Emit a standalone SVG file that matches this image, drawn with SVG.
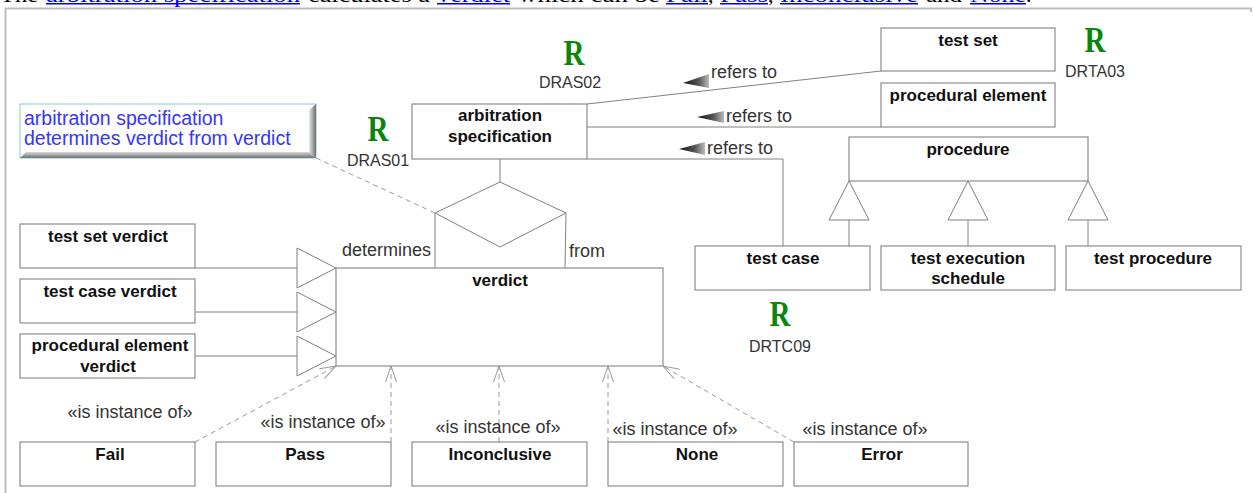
<svg xmlns="http://www.w3.org/2000/svg" width="1253" height="493" viewBox="0 0 1253 493">
<style>
.box{fill:#fff;stroke:#8c8c8c;stroke-width:1.2}
.ln{stroke:#808080;stroke-width:1;fill:none}
.dash{stroke:#9a9a9a;stroke-width:1;stroke-dasharray:5 4;fill:none}
.tri{fill:#fff;stroke:#808080;stroke-width:1}
.b{font-family:"Liberation Sans",Arial,sans-serif;font-weight:bold;font-size:17px;fill:#111;text-anchor:middle}
.t{font-family:"Liberation Sans",Arial,sans-serif;font-size:18px;fill:#333}
.r{font-family:"Liberation Serif","Times New Roman",serif;font-weight:bold;font-size:36px;fill:#0a870a;text-anchor:middle}
.id{font-family:"Liberation Sans",Arial,sans-serif;font-size:16px;fill:#333;text-anchor:middle}
.hd{font-family:"Liberation Serif","Times New Roman",serif;font-size:22px;fill:#000}
.lk{fill:#0000ee}
</style>
<defs>
<marker id="open" markerUnits="userSpaceOnUse" viewBox="-17 -7 18 14" refX="0" refY="0" markerWidth="18" markerHeight="14" orient="auto">
<path d="M-16,-5.5 L0,0 L-16,5.5" fill="none" stroke="#999" stroke-width="1"/>
</marker>
<linearGradient id="gr" x1="0" y1="0" x2="1" y2="0">
<stop offset="0" stop-color="#111"/><stop offset="0.6" stop-color="#555"/><stop offset="1" stop-color="#bbb"/>
</linearGradient>
<linearGradient id="bvR" x1="0" y1="0" x2="1" y2="0">
<stop offset="0" stop-color="#e8e8e8"/><stop offset="1" stop-color="#6e6e6e"/>
</linearGradient>
<linearGradient id="bvB" x1="0" y1="0" x2="0" y2="1">
<stop offset="0" stop-color="#d8d8d8"/><stop offset="1" stop-color="#707070"/>
</linearGradient>
</defs>

<g id="header">
<text class="hd" x="0" y="1.5" textLength="38" lengthAdjust="spacingAndGlyphs">The</text>
<text class="hd lk" x="46" y="1.5" textLength="254" lengthAdjust="spacingAndGlyphs">arbitration specification</text>
<text class="hd" x="308" y="1.5" textLength="122" lengthAdjust="spacingAndGlyphs">calculates a</text>
<text class="hd lk" x="437" y="1.5" textLength="73" lengthAdjust="spacingAndGlyphs">verdict</text>
<text class="hd" x="518" y="1.5" textLength="142" lengthAdjust="spacingAndGlyphs">which can be</text>
<text class="hd lk" x="666" y="1.5" textLength="42" lengthAdjust="spacingAndGlyphs">Fail</text>
<text class="hd" x="708" y="1.5">,</text>
<text class="hd lk" x="720" y="1.5" textLength="48" lengthAdjust="spacingAndGlyphs">Pass</text>
<text class="hd" x="768" y="1.5">,</text>
<text class="hd lk" x="780" y="1.5" textLength="138" lengthAdjust="spacingAndGlyphs">Inconclusive</text>
<text class="hd" x="926" y="1.5" textLength="36" lengthAdjust="spacingAndGlyphs">and</text>
<text class="hd lk" x="970" y="1.5" textLength="56" lengthAdjust="spacingAndGlyphs">None</text>
<text class="hd" x="1026" y="1.5">.</text>
<rect x="46" y="3" width="254" height="1.5" fill="#0000ee"/>
<rect x="437" y="3" width="73" height="1.5" fill="#0000ee"/>
<rect x="666" y="3" width="42" height="1.5" fill="#0000ee"/>
<rect x="720" y="3" width="48" height="1.5" fill="#0000ee"/>
<rect x="780" y="3" width="138" height="1.5" fill="#0000ee"/>
<rect x="970" y="3" width="56" height="1.5" fill="#0000ee"/>
</g>

<g id="frame">
<polyline points="5.5,493 5.5,8.5 1251,8.5 1251,12" fill="none" stroke="#bdbdbd" stroke-width="2"/>
</g>

<g id="connectors">
<line class="ln" x1="587" y1="104" x2="881" y2="71"/>
<line class="ln" x1="587" y1="127" x2="881" y2="127"/>
<polyline class="ln" points="587,159 783,159 783,246"/>
<polygon points="683,83 709,74 709,88" fill="url(#gr)"/>
<polygon points="697,117 724,111 724,123" fill="url(#gr)"/>
<polygon points="679,149 705,142 705,155" fill="url(#gr)"/>
<line class="ln" x1="500" y1="159" x2="500" y2="182"/>
<polygon class="tri" points="500,182 566,213 500,247 435,213"/>
<line class="ln" x1="435" y1="213" x2="435" y2="268"/>
<line class="ln" x1="566" y1="213" x2="565" y2="268"/>
<line class="dash" x1="316" y1="158" x2="435" y2="213"/>
<line class="ln" x1="195" y1="268" x2="297" y2="268"/>
<line class="ln" x1="195" y1="312" x2="297" y2="312"/>
<line class="ln" x1="195" y1="356" x2="297" y2="356"/>
<polygon class="tri" points="297,248 336,268 297,288"/>
<polygon class="tri" points="297,292 336,312 297,332"/>
<polygon class="tri" points="297,336 336,356 297,376"/>
<line class="ln" x1="849" y1="220" x2="849" y2="246"/>
<line class="ln" x1="968" y1="220" x2="968" y2="246"/>
<line class="ln" x1="1088" y1="220" x2="1088" y2="246"/>
<polygon class="tri" points="849,181 869,220 829,220"/>
<polygon class="tri" points="968,181 988,220 948,220"/>
<polygon class="tri" points="1088,181 1108,220 1068,220"/>
<line class="dash" x1="195" y1="442" x2="336" y2="366" marker-end="url(#open)"/>
<line class="dash" x1="391" y1="442" x2="391" y2="366" marker-end="url(#open)"/>
<line class="dash" x1="499" y1="442" x2="499" y2="366" marker-end="url(#open)"/>
<line class="dash" x1="608" y1="442" x2="608" y2="366" marker-end="url(#open)"/>
<line class="dash" x1="794" y1="442" x2="663" y2="366" marker-end="url(#open)"/>
<text class="t" x="711" y="78">refers to</text>
<text class="t" x="726" y="122">refers to</text>
<text class="t" x="707" y="154">refers to</text>
<text class="t" x="431" y="256" text-anchor="end">determines</text>
<text class="t" x="569" y="257">from</text>
<text class="t" x="130" y="418" text-anchor="middle">«is instance of»</text>
<text class="t" x="323" y="428" text-anchor="middle">«is instance of»</text>
<text class="t" x="498" y="433" text-anchor="middle">«is instance of»</text>
<text class="t" x="675" y="435" text-anchor="middle">«is instance of»</text>
<text class="t" x="865" y="435" text-anchor="middle">«is instance of»</text>
</g>

<g id="note">
<rect x="20" y="104" width="296" height="54" fill="#fff" stroke="#94d8d8" stroke-width="1.2"/>
<polygon points="309,110 316,104 316,158 309,152" fill="url(#bvR)"/>
<polygon points="26,152 309,152 316,158 20,158" fill="url(#bvB)"/>
<text x="24" y="125" font-family="Liberation Sans, Arial, sans-serif" font-size="19.5" fill="#3535ff">arbitration specification</text>
<text x="24" y="145" font-family="Liberation Sans, Arial, sans-serif" font-size="19.5" fill="#3535ff">determines verdict from verdict</text>
</g>

<g id="test-set"><rect class="box" x="881" y="28" width="174" height="43"/><text class="b" x="968" y="46">test set</text></g>
<g id="procedural-element"><rect class="box" x="881" y="83" width="174" height="44"/><text class="b" x="968" y="101">procedural element</text></g>
<g id="procedure"><rect class="box" x="849" y="137" width="239" height="44"/><text class="b" x="968" y="155">procedure</text></g>
<g id="test-case"><rect class="box" x="695" y="246" width="175" height="44"/><text class="b" x="783" y="264">test case</text></g>
<g id="test-execution-schedule"><rect class="box" x="881" y="246" width="174" height="44"/><text class="b" x="968" y="264">test execution</text><text class="b" x="968" y="284">schedule</text></g>
<g id="test-procedure"><rect class="box" x="1066" y="246" width="175" height="44"/><text class="b" x="1153" y="264">test procedure</text></g>
<g id="arbitration-specification"><rect class="box" x="412" y="104" width="175" height="55"/><text class="b" x="500" y="121">arbitration</text><text class="b" x="500" y="142">specification</text></g>
<g id="verdict"><rect class="box" x="336" y="268" width="327" height="98"/><text class="b" x="500" y="286">verdict</text></g>
<g id="test-set-verdict"><rect class="box" x="20" y="224" width="175" height="44"/><text class="b" x="108" y="242">test set verdict</text></g>
<g id="test-case-verdict"><rect class="box" x="20" y="279" width="175" height="44"/><text class="b" x="110" y="297">test case verdict</text></g>
<g id="procedural-element-verdict"><rect class="box" x="20" y="334" width="175" height="44"/><text class="b" x="110" y="351">procedural element</text><text class="b" x="108" y="372">verdict</text></g>
<g id="fail"><rect class="box" x="20" y="442" width="175" height="44"/><text class="b" x="110" y="460">Fail</text></g>
<g id="pass"><rect class="box" x="216" y="442" width="175" height="44"/><text class="b" x="305" y="460">Pass</text></g>
<g id="inconclusive"><rect class="box" x="412" y="442" width="175" height="44"/><text class="b" x="500" y="460">Inconclusive</text></g>
<g id="none"><rect class="box" x="608" y="442" width="175" height="44"/><text class="b" x="697" y="460">None</text></g>
<g id="error"><rect class="box" x="794" y="442" width="174" height="44"/><text class="b" x="882" y="460">Error</text></g>

<g id="req-DRAS02"><text class="r" x="574" y="65" textLength="21" lengthAdjust="spacingAndGlyphs">R</text><text class="id" x="570" y="88">DRAS02</text></g>
<g id="req-DRAS01"><text class="r" x="378" y="141" textLength="21" lengthAdjust="spacingAndGlyphs">R</text><text class="id" x="378" y="166">DRAS01</text></g>
<g id="req-DRTA03"><text class="r" x="1095" y="52" textLength="21" lengthAdjust="spacingAndGlyphs">R</text><text class="id" x="1095" y="77">DRTA03</text></g>
<g id="req-DRTC09"><text class="r" x="780" y="326" textLength="21" lengthAdjust="spacingAndGlyphs">R</text><text class="id" x="780" y="352">DRTC09</text></g>
</svg>
